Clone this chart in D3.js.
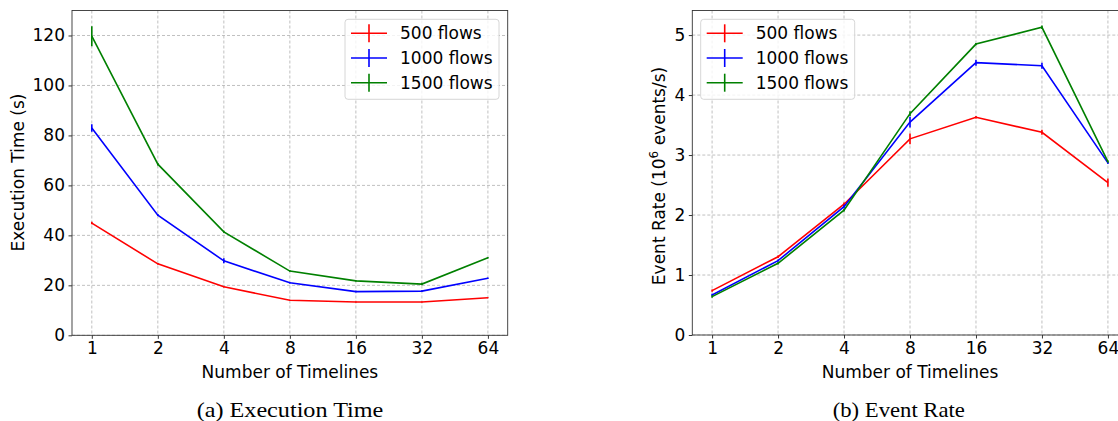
<!DOCTYPE html>
<html>
<head>
<meta charset="utf-8">
<script src="https://cdn.jsdelivr.net/npm/d3@7"></script>
<style>
  html, body { margin: 0; padding: 0; background: #fff; }
  svg { display: block; }
</style>
</head>
<body>
<svg id="chart" width="1118" height="421"></svg>
<script>
// ---------- DATA ----------
const categories = ["1", "2", "4", "8", "16", "32", "64"];
const seriesNames = ["500 flows", "1000 flows", "1500 flows"];
const seriesColors = ["#ff0000", "#0000ff", "#008000"];

// Execution time (s)
const time500  = [44.9, 28.6, 19.4, 14.0, 13.3, 13.3, 15.0];
const time1000 = [83.0, 48.1, 29.8, 21.0, 17.5, 17.7, 22.8];
const time1500 = [119.7, 68.5, 41.4, 25.7, 21.8, 20.5, 31.0];
const timeErr500  = [0.5, 0.3, 0.3, 0.2, 0.2, 0.2, 0.2];
const timeErr1000 = [1.5, 0.4, 1.0, 0.3, 0.3, 0.3, 0.3];
const timeErr1500 = [4.0, 0.5, 0.4, 0.3, 0.3, 0.5, 0.3];

// Event rate (10^6 events/s)
const rate500  = [0.74, 1.305, 2.18, 3.27, 3.63, 3.38, 2.54];
const rate1000 = [0.667, 1.24, 2.14, 3.55, 4.54, 4.49, 2.87];
const rate1500 = [0.64, 1.195, 2.08, 3.69, 4.85, 5.13, 2.89];
const rateErr500  = [0.02, 0.02, 0.03, 0.09, 0.02, 0.04, 0.07];
const rateErr1000 = [0.02, 0.02, 0.03, 0.09, 0.05, 0.05, 0.02];
const rateErr1500 = [0.02, 0.02, 0.02, 0.04, 0.02, 0.03, 0.02];

const timeTicks = [0, 20, 40, 60, 80, 100, 120];
const rateTicks = [0, 1, 2, 3, 4, 5];

// ---------- DRAWING ----------
const svg = d3.select("#chart");
const FONT = "DejaVu Sans";
const FS = 17;

function panel(opts) {
  const { left, right, top, bottom, yMax, yTicks, series, errs, ylabel, ylabelX, ylabelY,
          legendX, caption, captionX, captionLen, xlabelX } = opts;
  const x = d3.scaleLinear().domain([-0.3, 6.3]).range([left, right]);
  const y = d3.scaleLinear().domain([0, yMax]).range([bottom, top]);
  const g = svg.append("g");

  // grid
  g.append("g").selectAll("line.vg").data(categories).join("line")
    .attr("x1", (d, i) => x(i)).attr("x2", (d, i) => x(i))
    .attr("y1", top).attr("y2", bottom)
    .attr("stroke", "#b0b0b0").attr("stroke-width", 0.8).attr("stroke-dasharray", "3,2");
  g.append("g").selectAll("line.hg").data(yTicks).join("line")
    .attr("x1", left).attr("x2", right)
    .attr("y1", d => y(d)).attr("y2", d => y(d))
    .attr("stroke", "#b0b0b0").attr("stroke-width", 0.8).attr("stroke-dasharray", "3,2");

  // axes
  const xAxis = d3.axisBottom(x).tickValues(d3.range(categories.length))
    .tickFormat(i => categories[i]).tickSize(3.5).tickPadding(3.5);
  const gx = g.append("g").attr("transform", `translate(0,${bottom})`).call(xAxis);
  const yAxis = d3.axisLeft(y).tickValues(yTicks).tickFormat(d3.format("d"))
    .tickSize(3.5).tickPadding(3.5);
  const gy = g.append("g").attr("transform", `translate(${left},0)`).call(yAxis);
  [gx, gy].forEach(a => {
    a.select(".domain").remove();
    a.selectAll("text").attr("font-family", FONT).attr("font-size", FS).attr("fill", "#000");
    a.selectAll("line").attr("stroke", "#000").attr("stroke-width", 0.8);
  });

  // series
  const line = d3.line().x((d, i) => x(i)).y(d => y(d));
  series.forEach((vals, s) => {
    g.append("path").datum(vals).attr("d", line)
      .attr("fill", "none").attr("stroke", seriesColors[s]).attr("stroke-width", 1.6);
    g.append("g").selectAll("line").data(vals).join("line")
      .attr("x1", (d, i) => x(i)).attr("x2", (d, i) => x(i))
      .attr("y1", (d, i) => y(d - errs[s][i])).attr("y2", (d, i) => y(d + errs[s][i]))
      .attr("stroke", seriesColors[s]).attr("stroke-width", 1.6);
  });

  // frame
  g.append("rect").attr("x", left).attr("y", top)
    .attr("width", right - left).attr("height", bottom - top)
    .attr("fill", "none").attr("stroke", "#333").attr("stroke-width", 0.9);

  // legend
  const lg = g.append("g").attr("transform", `translate(${legendX},19.3)`);
  lg.append("rect").attr("x", 0).attr("y", 0).attr("width", 154).attr("height", 80)
    .attr("rx", 3).attr("fill", "#fff").attr("fill-opacity", 0.8)
    .attr("stroke", "#cccccc").attr("stroke-width", 0.8);
  seriesNames.forEach((name, s) => {
    const cy = 14 + s * 24.7;
    lg.append("line").attr("x1", 6).attr("x2", 42).attr("y1", cy).attr("y2", cy)
      .attr("stroke", seriesColors[s]).attr("stroke-width", 1.6);
    lg.append("line").attr("x1", 24).attr("x2", 24).attr("y1", cy - 9).attr("y2", cy + 9)
      .attr("stroke", seriesColors[s]).attr("stroke-width", 1.6);
    lg.append("text").attr("x", 55).attr("y", cy + 6.2)
      .attr("font-family", FONT).attr("font-size", FS).text(name);
  });

  // x label
  g.append("text").attr("x", xlabelX).attr("y", 378).attr("text-anchor", "middle")
    .attr("font-family", FONT).attr("font-size", FS).text("Number of Timelines");

  // y label
  const yl = g.append("text").attr("transform", `translate(${ylabelX},${ylabelY}) rotate(-90)`)
    .attr("text-anchor", "middle").attr("font-family", FONT).attr("font-size", FS);
  ylabel(yl);

  // caption
  g.append("text").attr("x", captionX).attr("y", 416.5).attr("text-anchor", "middle")
    .attr("font-family", "Liberation Serif").attr("font-size", 21)
    .attr("textLength", captionLen).attr("lengthAdjust", "spacingAndGlyphs")
    .text(caption);
}

panel({
  left: 72, right: 507.7, top: 10.5, bottom: 335.3, yMax: 130, yTicks: timeTicks,
  series: [time500, time1000, time1500], errs: [timeErr500, timeErr1000, timeErr1500],
  ylabel: t => t.text("Execution Time (s)"), ylabelX: 24, ylabelY: 172.5,
  legendX: 345, caption: "(a) Execution Time", captionX: 290, captionLen: 186.7, xlabelX: 289.9
});

panel({
  left: 692.3, right: 1127.7, top: 10.5, bottom: 335, yMax: 5.41, yTicks: rateTicks,
  series: [rate500, rate1000, rate1500], errs: [rateErr500, rateErr1000, rateErr1500],
  ylabel: t => {
    t.append("tspan").text("Event Rate (10");
    t.append("tspan").attr("font-size", 12).attr("dy", -7).text("6");
    t.append("tspan").attr("dy", 7).text(" events/s)");
  },
  ylabelX: 665, ylabelY: 176,
  legendX: 700.7, caption: "(b) Event Rate", captionX: 898.8, captionLen: 132.3, xlabelX: 910
});
</script>
</body>
</html>
